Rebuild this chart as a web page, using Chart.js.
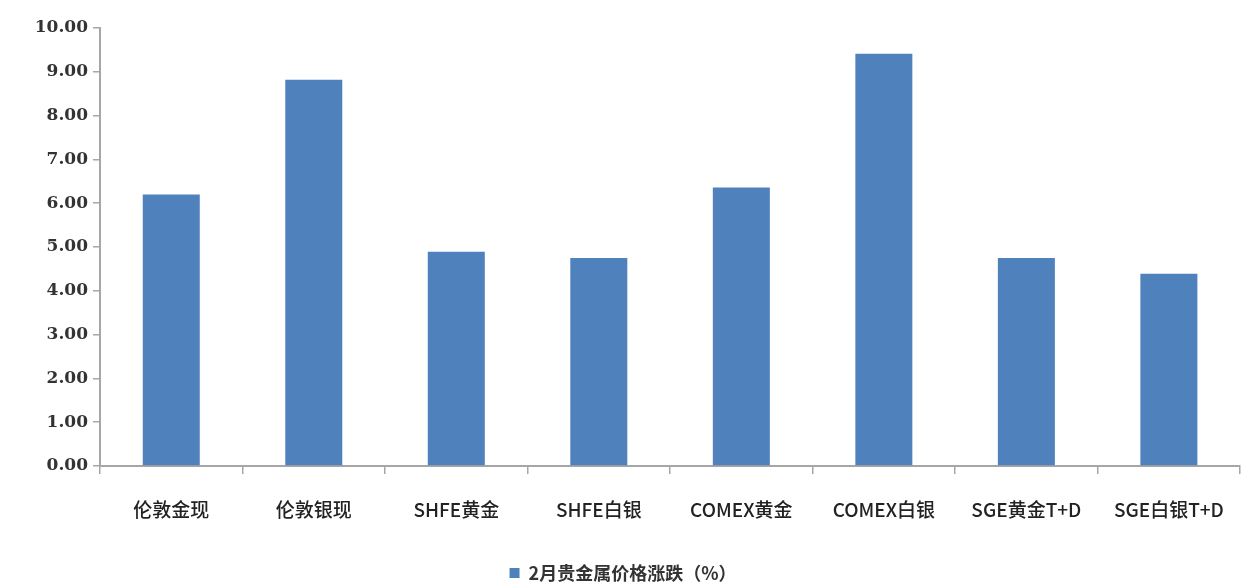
<!DOCTYPE html>
<html>
<head>
<meta charset="utf-8">
<script src="https://cdn.jsdelivr.net/npm/chart.js@4/dist/chart.umd.min.js"></script>
<style>
  html, body { margin: 0; padding: 0; background: #fff; }
  #wrap { width: 1248px; height: 584px; }
</style>
</head>
<body>
<div id="wrap"><canvas id="grafico"></canvas></div>
<script>
// categorías y valores
const categorias = ['伦敦金现', '伦敦银现', 'SHFE黄金', 'SHFE白银', 'COMEX黄金', 'COMEX白银', 'SGE黄金T+D', 'SGE白银T+D'];
const variacion = [6.20, 8.82, 4.89, 4.75, 6.36, 9.41, 4.75, 4.39];
const serieNombre = '2月贵金属价格涨跌（%）';

const ctx = document.getElementById('grafico').getContext('2d');
new Chart(ctx, {
    type: 'bar',
    data: {
        labels: categorias,
        datasets: [{
            label: serieNombre,
            data: variacion,
            backgroundColor: '#4F81BD',
            borderWidth: 0,
            categoryPercentage: 1,
            barPercentage: 0.4
        }]
    },
    options: {
        responsive: true,
        maintainAspectRatio: false,
        animation: false,
        layout: { padding: { left: 0, right: 2, top: 28, bottom: -8 } },
        scales: {
            x: {
                grid: {
                    offset: true,
                    drawOnChartArea: false,
                    drawTicks: true,
                    tickLength: 8,
                    color: '#a6a6a6',
                    lineWidth: 1.5
                },
                border: { color: '#a6a6a6', width: 2 },
                ticks: {
                    color: '#222',
                    padding: 24,
                    maxRotation: 0,
                    autoSkip: false,
                    font: { family: '"Noto Sans CJK SC", sans-serif', size: 19, weight: 500 }
                },
                afterFit: s => { s.height = 96; }
            },
            y: {
                min: 0,
                max: 10,
                grid: {
                    drawOnChartArea: false,
                    tickLength: 7,
                    color: '#a6a6a6',
                    lineWidth: 1.5
                },
                border: { color: '#a6a6a6', width: 2 },
                ticks: {
                    stepSize: 1,
                    color: '#333',
                    padding: 5,
                    font: { family: '"DejaVu Serif", serif', size: 17, weight: 'bold' },
                    callback: v => v.toFixed(2)
                },
                afterFit: s => { s.width = 100; }
            }
        },
        plugins: {
            legend: {
                display: true,
                position: 'bottom',
                labels: {
                    boxWidth: 10,
                    boxHeight: 10,
                    padding: 2,
                    color: '#333',
                    font: { family: '"Noto Sans CJK SC", sans-serif', size: 18, weight: 'bold' }
                }
            },
            tooltip: { enabled: false }
        }
    }
});
</script>
</body>
</html>
